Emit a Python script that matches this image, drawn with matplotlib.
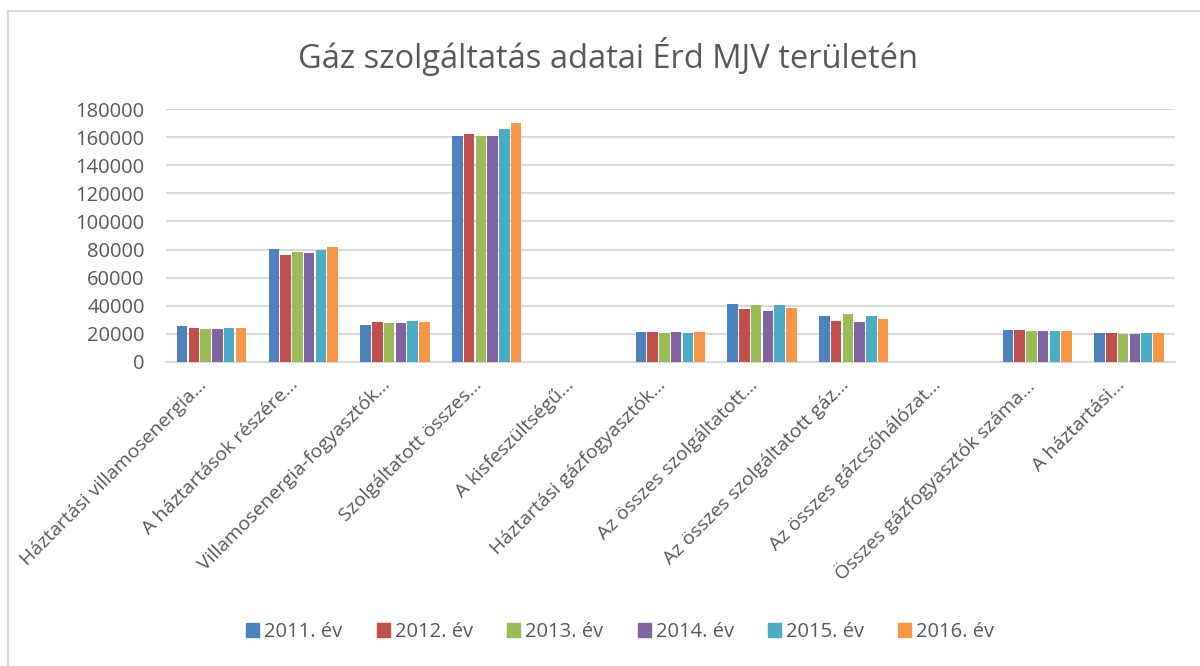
# Gáz szolgáltatás adatai Érd MJV területén - grouped bar chart (Excel style)
import numpy as np
import matplotlib.pyplot as plt
import matplotlib.transforms as mtransforms
from matplotlib.lines import Line2D

plt.rcParams['font.family'] = ['Open Sans', 'DejaVu Sans']

# Category labels (truncated as in the original chart)
categories = [
    "Háztartási villamosenergia...",
    "A háztartások részére...",
    "Villamosenergia-fogyasztók...",
    "Szolgáltatott összes...",
    "A kisfeszültségű...",
    "Háztartási gázfogyasztók...",
    "Az összes szolgáltatott...",
    "Az összes szolgáltatott gáz...",
    "Az összes gázcsőhálózat...",
    "Összes gázfogyasztók száma...",
    "A háztartási...",
]

years = ["2011. év", "2012. év", "2013. év", "2014. év", "2015. év", "2016. év"]

# Values per year
v2011 = [25900, 80400, 26300, 161100, 150, 21600, 41500, 32700, 250, 23000, 20600]
v2012 = [24200, 76200, 28500, 162300, 150, 21600, 38000, 29400, 250, 23000, 20600]
v2013 = [23700, 78500, 28000, 160900, 150, 20900, 40800, 34200, 250, 22300, 20200]
v2014 = [23700, 77400, 27800, 161100, 150, 21600, 36300, 28200, 250, 22300, 20200]
v2015 = [24400, 79700, 29200, 166100, 150, 20900, 40600, 32500, 250, 22300, 20400]
v2016 = [24400, 81900, 28700, 170100, 150, 21400, 38400, 30800, 250, 22300, 20600]

series = [v2011, v2012, v2013, v2014, v2015, v2016]
colors = ["#4F81BD", "#C0504D", "#9BBB59", "#8064A2", "#4BACC6", "#F79646"]

text_color = "#595959"
grid_color = "#D9D9D9"

fig = plt.figure(figsize=(12, 6.66), dpi=100)
ax = fig.add_axes([0.138, 0.4565, 0.841, 0.3798])

x = np.arange(len(categories))
step = 0.128
width = 0.115
for i, (vals, col, lab) in enumerate(zip(series, colors, years)):
    offs = (i - 2.5) * step
    ax.bar(x + offs, vals, width=width, color=col, label=lab, zorder=3)

ax.set_xlim(-0.5, len(categories) - 0.5)
ax.set_ylim(0, 180000)
ax.set_yticks(np.arange(0, 180001, 20000))
ax.yaxis.grid(True, color=grid_color, linewidth=1.5, zorder=0)
ax.set_axisbelow(True)

for side in ["top", "right", "left"]:
    ax.spines[side].set_visible(False)
ax.spines["bottom"].set_color(grid_color)
ax.spines["bottom"].set_linewidth(1.5)

ax.tick_params(axis="y", length=0, colors=text_color, labelsize=14.5, pad=15)
ax.set_xticks(x)
ax.set_xticklabels(categories, rotation=45, ha="right", rotation_mode="anchor",
                   fontsize=14, color=text_color)
ax.tick_params(axis="x", length=0, pad=10)
# shift category labels a bit to the left, as in the original
shift = mtransforms.ScaledTranslation(-10 / 72, 0, fig.dpi_scale_trans)
for lbl in ax.get_xticklabels():
    lbl.set_transform(lbl.get_transform() + shift)

fig.text(0.507, 0.915, "Gáz szolgáltatás adatai Érd MJV területén",
         ha="center", va="center", fontsize=23.5, color=text_color)

handles = [plt.Rectangle((0, 0), 1, 1, color=c) for c in colors]
fig.legend(handles, years, loc="center", bbox_to_anchor=(0.517, 0.051), ncol=6,
           frameon=False, fontsize=14.5, handlelength=0.65, handleheight=0.65,
           handletextpad=0.25, columnspacing=1.7, labelcolor=text_color)

# chart frame (top and left edges visible in the crop)
fig.add_artist(Line2D([0.0067, 1.0], [0.9835, 0.9835], color=grid_color, linewidth=1.5))
fig.add_artist(Line2D([0.0067, 0.0067], [0.0, 0.9835], color=grid_color, linewidth=1.5))

fig.savefig("out.png", dpi=100, facecolor="white")
